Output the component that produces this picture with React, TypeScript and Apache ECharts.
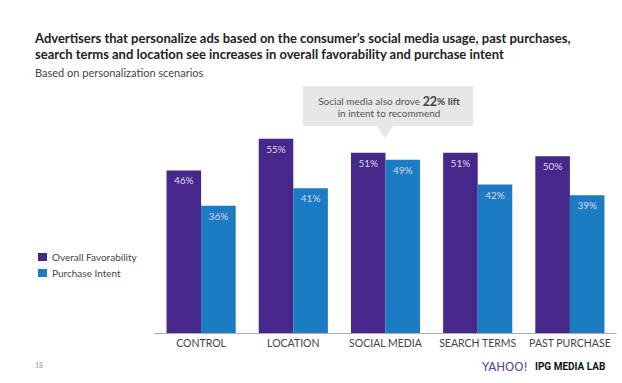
import React, { useEffect, useRef } from "react";
import * as echarts from "echarts";

const categories = ["CONTROL", "LOCATION", "SOCIAL MEDIA", "SEARCH TERMS", "PAST PURCHASE"];
const overallFavorability = [46, 55, 51, 51, 50];
const purchaseIntent = [36, 41, 49, 42, 39];
const seriesNames = ["Overall Favorability", "Purchase Intent"];
const titleLines = [
  "Advertisers that personalize ads based on the consumer\u2019s social media usage, past purchases,",
  "search terms and location see increases in overall favorability and purchase intent",
];
const subtitle = "Based on personalization scenarios";

const PURPLE = "#45288a";
const BLUE = "#1b7bc3";
const FONT = "Lato, 'Open Sans', sans-serif";

export default function App() {
  const ref = useRef<HTMLDivElement>(null);
  useEffect(() => {
    if (!ref.current) return;
    const chart = echarts.init(ref.current, null, { renderer: "svg" });
    const label = {
      show: true,
      position: "insideTop",
      distance: 5,
      color: "#ddd6f2",
      fontSize: 10,
      fontFamily: FONT,
      formatter: "{c}%",
    };
    chart.setOption({
      animation: false,
      backgroundColor: "#ffffff",
      textStyle: { fontFamily: FONT },
      grid: { left: 155, right: 6, top: 121, bottom: 50 },
      legend: {
        orient: "vertical",
        left: 33,
        top: 247,
        itemWidth: 9,
        itemHeight: 8,
        itemGap: 6,
        icon: "rect",
        textStyle: { fontSize: 10, color: "#444", fontFamily: FONT },
        data: seriesNames,
      },
      xAxis: {
        type: "category",
        data: categories,
        axisTick: { show: false },
        axisLine: { show: true, lineStyle: { color: "#999", type: "dotted", width: 1 } },
        axisLabel: { color: "#444", fontSize: 10.5, margin: 4, interval: 0, fontFamily: FONT },
      },
      yAxis: {
        type: "value",
        min: 0,
        max: 60,
        show: false,
        splitLine: { show: false },
      },
      series: [
        {
          name: seriesNames[0],
          type: "bar",
          data: overallFavorability,
          itemStyle: { color: PURPLE },
          barGap: "0%",
          barCategoryGap: "25%",
          label,
        },
        {
          name: seriesNames[1],
          type: "bar",
          data: purchaseIntent,
          itemStyle: { color: BLUE },
          barGap: "0%",
          barCategoryGap: "25%",
          label,
        },
      ],
      graphic: [
        {
          type: "text",
          left: 35,
          top: 30,
          style: {
            text: titleLines.join("\n"),
            font: `bold 13px ${FONT}`,
            fill: "#222",
            lineHeight: 16,
          },
        },
        {
          type: "text",
          left: 35,
          top: 67,
          style: { text: subtitle, font: `11px ${FONT}`, fill: "#444" },
        },
        {
          type: "polygon",
          shape: {
            points: [
              [303, 86],
              [473, 86],
              [473, 126],
              [393, 126],
              [385, 138],
              [377, 126],
              [303, 126],
            ],
          },
          style: { fill: "#e7e7e7" },
        },
        {
          type: "text",
          x: 389,
          y: 107,
          style: {
            text: "{n|Social media also drove }{b|22}{s|% lift}\n{n|in intent to recommend}",
            align: "center",
            verticalAlign: "middle",
            lineHeight: 12,
            rich: {
              n: { fontSize: 10, fill: "#555", fontFamily: FONT, lineHeight: 12 },
              b: { fontSize: 12.5, fontWeight: "bold", fill: "#444", fontFamily: FONT, lineHeight: 12 },
              s: { fontSize: 10, fontWeight: "bold", fill: "#444", fontFamily: FONT, lineHeight: 12 },
            },
          },
        },
        {
          type: "text",
          left: 35,
          top: 361,
          style: { text: "18", font: `7px ${FONT}`, fill: "#999" },
        },
        {
          type: "text",
          left: 482,
          top: 360,
          style: { text: "YAHOO!", font: `13px 'DejaVu Sans Condensed', ${FONT}`, fill: "#5b3c9d" },
        },
        {
          type: "text",
          left: 535,
          top: 361,
          style: { text: "IPG MEDIA LAB", font: `bold 10px Roboto, ${FONT}`, fill: "#111" },
        },
      ],
    });
    return () => chart.dispose();
  }, []);
  return (
    <div
      ref={ref}
      style={{ position: "fixed", left: 0, top: 0, width: 622, height: 383 }}
    />
  );
}
